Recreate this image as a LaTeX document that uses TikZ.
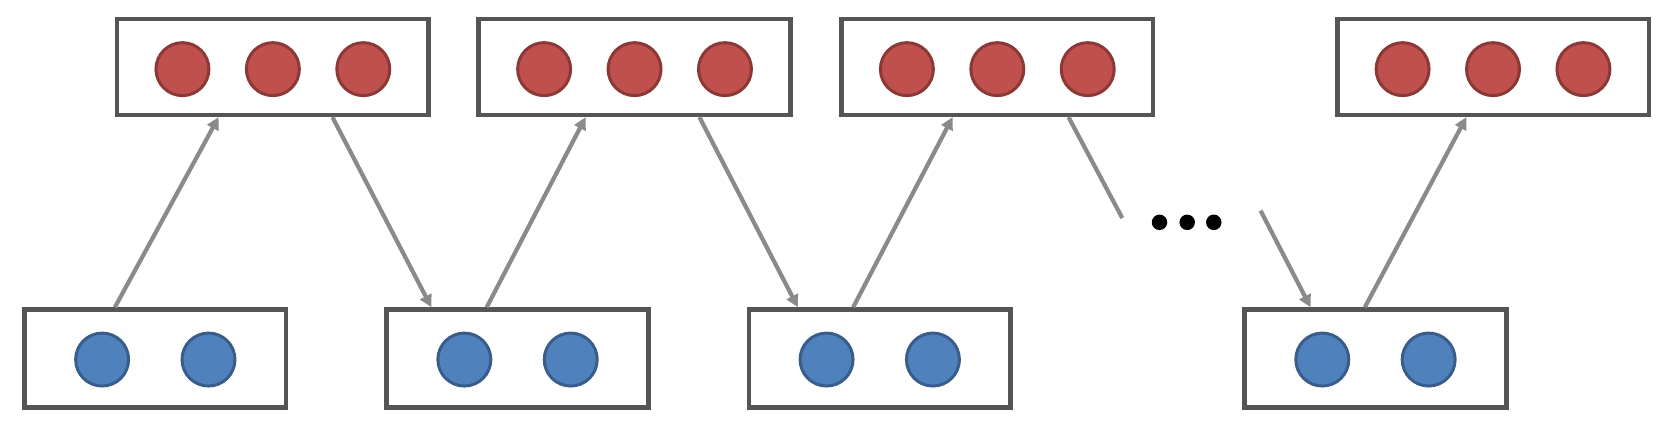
\documentclass[tikz,border=0pt]{standalone}
\usetikzlibrary{calc,arrows.meta}

\definecolor{redfill}{HTML}{C0504D}
\definecolor{redline}{HTML}{8C3836}
\definecolor{bluefill}{HTML}{4F81BD}
\definecolor{blueline}{HTML}{385D8A}
\definecolor{boxline}{HTML}{555555}
\definecolor{arrowline}{HTML}{8A8A8A}

\tikzset{
  topbox/.style={draw=boxline,line width=2.6pt,minimum width=6.235cm,minimum height=1.915cm,inner sep=0pt},
  botbox/.style={draw=boxline,line width=2.6pt,minimum width=5.235cm,minimum height=1.958cm,inner sep=0pt},
  redunit/.style={circle,fill=redfill,draw=redline,line width=1.7pt,minimum size=1.06cm,inner sep=0pt},
  blueunit/.style={circle,fill=bluefill,draw=blueline,line width=1.7pt,minimum size=1.06cm,inner sep=0pt},
  link/.style={draw=arrowline,line width=2.4pt},
  linkarrow/.style={link,-{Triangle[length=7pt,width=7pt]}},
  dot/.style={circle,fill=black,minimum size=0.31cm,inner sep=0pt}
}

\begin{document}
\begin{tikzpicture}[x=0.02128cm,y=-0.02128cm]
    \useasboundingbox (0,0) rectangle (1568,398);

    % top row
    \foreach \name/\cx in {t1/256.5,t2/596.5,t3/937.5,t4/1403.5} {
      \node[topbox] (\name) at (\cx,63) {};
      \node[redunit] (\name a) at (\cx-85,65) {};
      \node[redunit] (\name b) at (\cx,65) {};
      \node[redunit] (\name c) at (\cx+85,65) {};
    }

    % bottom row
    \foreach \name/\cx in {b1/146,b2/486.5,b3/827,b4/1293} {
      \node[botbox] (\name) at (\cx,337) {};
      \node[blueunit] (\name a) at (\cx-50,338) {};
      \node[blueunit] (\name b) at (\cx+50,338) {};
    }

    % connectors
    \draw[linkarrow] ($(b1.north)+(-38,0)$) -- ($(t1.south)+(-51,0)$);
    \draw[linkarrow] ($(t1.south)+(56,0)$) -- ($(b2.north)+(-81,0)$);
    \draw[linkarrow] ($(b2.north)+(-29,0)$) -- ($(t2.south)+(-46,0)$);
    \draw[linkarrow] ($(t2.south)+(61,0)$) -- ($(b3.north)+(-77,0)$);
    \draw[linkarrow] ($(b3.north)+(-25,0)$) -- ($(t3.south)+(-42,0)$);
    \coordinate (gapl) at (1055,205);
    \coordinate (gapr) at (1185,198);
    \draw[link] ($(t3.south)+(67,0)$) -- (gapl);
    \draw[linkarrow] (gapr) -- ($(b4.north)+(-61,0)$);
    \draw[linkarrow] ($(b4.north)+(-10,0)$) -- ($(t4.south)+(-25,0)$);

    % ellipsis
    \node[dot] (dot1) at (1090,209) {};
    \node[dot] (dot2) at (1116,209) {};
    \node[dot] (dot3) at (1141,209) {};
\end{tikzpicture}
\end{document}
